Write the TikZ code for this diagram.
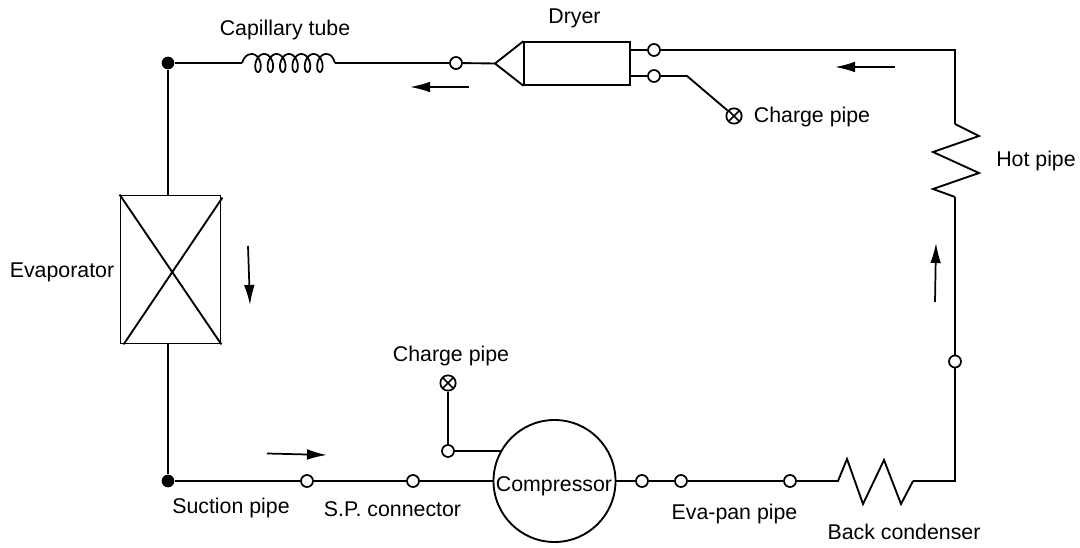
\documentclass[tikz,border=0pt]{standalone}
\usepackage{fontspec}
\setmainfont{Liberation Sans}
\usetikzlibrary{arrows.meta,calc}
\tikzset{
  pipe/.style={line width=1.4pt,line join=miter},
  joint/.style={circle,draw,line width=1.3pt,fill=white,inner sep=0pt,minimum size=9pt},
  blackdot/.style={circle,fill=black,inner sep=0pt,minimum size=9.5pt},
  chargept/.style={circle,draw,line width=1.3pt,fill=white,inner sep=0pt,minimum size=11.5pt,
    path picture={\draw[line width=1.2pt] (path picture bounding box.north west)--(path picture bounding box.south east)
      (path picture bounding box.north east)--(path picture bounding box.south west);}},
  flow/.style={line width=1.3pt,-{Latex[length=15pt,width=8pt]}},
  lbl/.style={anchor=base,inner sep=0pt,font=\fontsize{16}{18}\selectfont}
}
\begin{document}
\begin{tikzpicture}[x=0.75pt,y=-0.75pt]
\useasboundingbox (0,0) rectangle (1080,548);
% top and left corner
\node[blackdot] (cornertop) at (168,63) {};
\node[blackdot] (cornerbot) at (168,481) {};
\node[draw,pipe,minimum width=75pt,minimum height=111pt,inner sep=0pt] (evap) at (170.5,269.5) {};
\draw[pipe] (evap.north west)--(evap.south east);
\draw[pipe] ($(evap.south west)+(4,0)$)--($(evap.north east)+(1,3)$);
\draw[pipe] (cornertop)--(cornertop|-evap.north);
\draw[pipe] (cornerbot|-evap.south)--(cornerbot);
% capillary coil
\coordinate (coilin) at (242,63);
\coordinate (coilout) at (335,63);
\draw[pipe] (cornertop)--(coilin);
\draw[pipe,line width=1.3pt] (coilin) .. controls (244,57) and (247,54) .. (251.8,54)
  plot[domain=0:37.7,samples=220] ({251.8+1.97*\x+5.5*sin(\x r)},{63-9*cos(\x r)})
  .. controls (331,54) and (333,57) .. (coilout);
\node[joint] (jtop) at (456,63) {};
\draw[pipe] (coilout)--(jtop);
% dryer
\node[draw,pipe,minimum width=79pt,minimum height=32pt,inner sep=0pt] (dryer) at (577,63.5) {};
\coordinate (dryertip) at (495,63.5);
\draw[pipe] (dryer.north west)--(dryertip)--(dryer.south west);
\draw[pipe] (jtop)--(dryertip);
\node[joint] (jdry) at (654,50) {};
\node[joint] (jchg) at (654,76) {};
\draw[pipe] (jdry)--(jdry-|dryer.east);
\draw[pipe] (jchg)--(jchg-|dryer.east);
\node[chargept] (chgtop) at (734,116) {};
\coordinate (chgbend) at (687,76);
\draw[pipe] (jchg)--(chgbend)--(chgtop);
% hot pipe
\coordinate (hotout) at (955,124);
\coordinate (hotin) at (955,197);
\draw[pipe] (hotout)--(979,136)--(933,152)--(979,173)--(933,189)--(hotin);
\draw[pipe] (hotout) |- (jdry);
\node[joint] (jright) at (955,361.5) {};
\draw[pipe] (jright)--(hotin);
% compressor line
\node[joint] (jsuc) at (307,481) {};
\node[joint] (jsp) at (413,481) {};
\node[draw,circle,pipe,minimum size=91.5pt,inner sep=0pt] (comp) at (554.5,481) {};
\node[joint] (jcomp) at (642,481) {};
\node[joint] (jeva) at (681,481) {};
\node[joint] (jpan) at (790,481) {};
\draw[pipe] (cornerbot)--(jsuc);
\draw[pipe] (jsuc)--(jsp);
\draw[pipe] (jsp)--(comp);
\draw[pipe] (comp)--(jcomp);
\draw[pipe] (jcomp)--(jeva);
\draw[pipe] (jeva)--(jpan);
\node[joint] (jlow) at (448,451) {};
\node[chargept] (chgbot) at (448,383) {};
\draw[pipe] (chgbot)--(jlow);
\draw[pipe] (jlow)--(jlow-|comp.150.5);
% back condenser
\coordinate (condin) at (838,481);
\coordinate (condout) at (913,481);
\draw[pipe] (jpan)--(condin)--(847,459)--(863,504)--(884,460)--(901,504)--(condout);
\draw[pipe] (condout) -| (jright);
% flow arrows
\coordinate (fa1) at (469,87); \coordinate (fb1) at (410,87);
\coordinate (fa2) at (895,67); \coordinate (fb2) at (835,67);
\coordinate (fa3) at (248,246); \coordinate (fb3) at (250,305);
\coordinate (fa4) at (935,302); \coordinate (fb4) at (936,243);
\coordinate (fa5) at (267,453.5); \coordinate (fb5) at (327,455);
\foreach \i in {1,...,5} \draw[flow] (fa\i)--(fb\i);
% labels
\node[lbl] (lcap) at (285,36) {Capillary tube};
\node[lbl] (ldry) at (574.5,24) {Dryer};
\node[lbl] (lchgtop) at (812,123) {Charge pipe};
\node[lbl] (lhot) at (1036,167) {Hot pipe};
\node[lbl] (levap) at (62,278) {Evaporator};
\node[lbl] (lchgbot) at (451,362) {Charge pipe};
\node[lbl] (lcomp) at (554,491) {Compressor};
\node[lbl] (lsuc) at (231,513) {Suction pipe};
\node[lbl] (lsp) at (392.5,516) {S.P. connector};
\node[lbl] (leva) at (734.5,519) {Eva-pan pipe};
\node[lbl] (lback) at (904,539) {Back condenser};
\end{tikzpicture}
\end{document}
